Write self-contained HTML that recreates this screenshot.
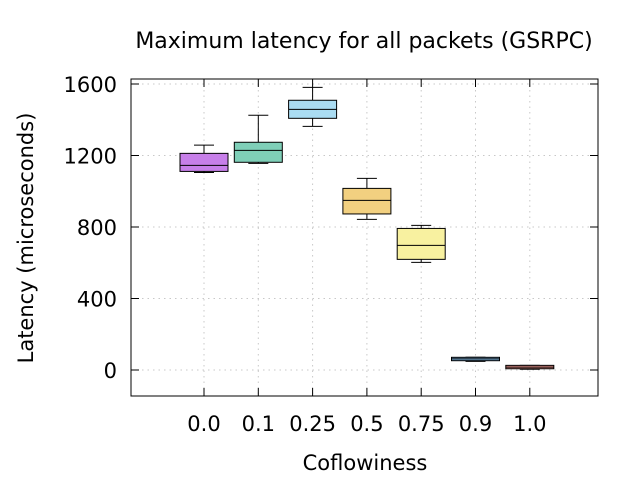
<!DOCTYPE html>
<html><head><meta charset="utf-8"><style>
body{margin:0;background:#fff}
svg text{font-family:"DejaVu Sans","Liberation Sans",sans-serif;fill:#000}
</style></head><body>
<svg id="chart" width="640" height="480"></svg>
<script>
const categories=["0.0","0.1","0.25","0.5","0.75","0.9","1.0"];
const mins=[1105,1156,1363,843,602,48,4];
const q1s=[1111,1162,1408,873,619,52,7];
const medians=[1145,1229,1458,949,697,62,16];
const q3s=[1212,1274,1509,1016,792,71,26];
const maxs=[1258,1425,1581,1072,809,71,26];
const colors=["#c77fe9","#7fcfb8","#aadcf2","#f2d080","#f8f1a0","#7fb6e0","#f39a92"];
const yTicks=[0,400,800,1200,1600];
const NS="http://www.w3.org/2000/svg";
const svg=document.getElementById('chart');
const L=131,R=598,T=79,B=396;
const y=v=>370-v*71.5/400;
const x=i=>204+i*54.3;
function mk(tag,attrs,parent){const e=document.createElementNS(NS,tag);for(const k in attrs)e.setAttribute(k,attrs[k]);(parent||svg).appendChild(e);return e;}
yTicks.forEach(v=>{
 const g=mk('line',{x1:L,x2:R,y1:y(v),y2:y(v),stroke:'#c8c8c8','stroke-dasharray':'1.5,4'});
 
 
 mk('line',{x1:L,x2:L+8,y1:y(v),y2:y(v),stroke:'#000'});
 mk('line',{x1:R-8,x2:R,y1:y(v),y2:y(v),stroke:'#000'});
 const t=mk('text',{x:L-14,y:y(v)+8,'text-anchor':'end','font-size':21});
 t.textContent=v;
 
 
});
categories.forEach((c,i)=>{
 const g=mk('line',{x1:x(i),x2:x(i),y1:T,y2:B,stroke:'#c8c8c8','stroke-dasharray':'1.5,4'});
 
 
 mk('line',{x1:x(i),x2:x(i),y1:B,y2:B-8,stroke:'#000'});
 mk('line',{x1:x(i),x2:x(i),y1:T,y2:T+8,stroke:'#000'});
 const t=mk('text',{x:x(i),y:431,'text-anchor':'middle','font-size':21});
 t.textContent=c;
 
 
});
categories.forEach((c,i)=>{
 const g=mk('g',{});
 
 
 const cx=x(i),hw=24,cw=10;
 mk('line',{x1:cx,x2:cx,y1:y(maxs[i]),y2:y(q3s[i]),stroke:'#000'},g);
 mk('line',{x1:cx,x2:cx,y1:y(q1s[i]),y2:y(mins[i]),stroke:'#000'},g);
 mk('line',{x1:cx-cw,x2:cx+cw,y1:y(maxs[i]),y2:y(maxs[i]),stroke:'#000'},g);
 mk('line',{x1:cx-cw,x2:cx+cw,y1:y(mins[i]),y2:y(mins[i]),stroke:'#000'},g);
 mk('rect',{x:cx-hw,y:y(q3s[i]),width:hw*2,height:Math.max(1,y(q1s[i])-y(q3s[i])),fill:colors[i],stroke:'#000'},g);
 mk('line',{x1:cx-hw,x2:cx+hw,y1:y(medians[i]),y2:y(medians[i]),stroke:'#000'},g);
});
const f=mk('rect',{x:L,y:T,width:R-L,height:B-T,fill:'none',stroke:'#000'});


let t=mk('text',{x:364,y:48,'text-anchor':'middle','font-size':22});
t.textContent='Maximum latency for all packets (GSRPC)';


t=mk('text',{x:365,y:470,'text-anchor':'middle','font-size':21});
t.textContent='Coflowiness';


t=mk('text',{x:0,y:0,'text-anchor':'middle','font-size':21,transform:'translate(33,238) rotate(-90)'});
t.textContent='Latency (microseconds)';


</script>
</body></html>
